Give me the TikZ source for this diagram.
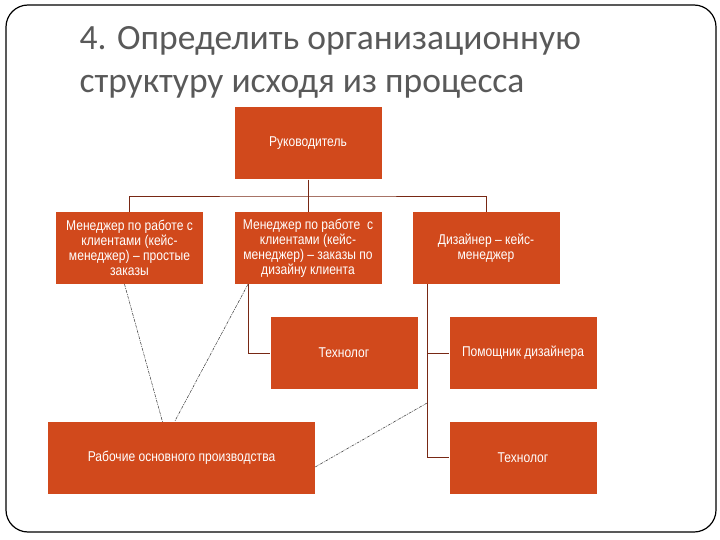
\documentclass[tikz,border=0pt]{standalone}
\usepackage{fontspec}
\setmainfont{Carlito}
\newfontfamily\boxfont[FakeStretch=0.85]{Liberation Sans}
\definecolor{postfill}{RGB}{209,73,28}
\definecolor{linkbrown}{RGB}{120,40,20}
\definecolor{titlegray}{RGB}{89,89,89}
\tikzset{
  post/.style={fill=postfill, text=white, align=center, inner sep=2pt,
    font=\boxfont\fontsize{14.2}{15}\selectfont,
    minimum width=147pt, minimum height=72pt},
  link/.style={linkbrown, line width=0.7pt},
  loose/.style={black!80, line width=0.5pt, dash pattern=on 3pt off 1pt on 1pt off 1pt}
}
\begin{document}
\begin{tikzpicture}[x=1pt, y=-1pt]
  \useasboundingbox (0,0) rectangle (720,540);
  \draw[line width=1.2pt, rounded corners=22pt] (6,5) rectangle (716,532);
  \node[anchor=base west, text=titlegray, align=left,
        font=\fontsize{35.5}{43}\selectfont] (title) at (76,93)
        {4. Определить организационную\\структуру исходя из процесса};
  % boxes
  \node[post] (lead) at (308,143.5) {Руководитель};
  \node[post] (case1) at (129.5,248) {Менеджер по работе с\\клиентами (кейс-\\менеджер) – простые\\заказы};
  \node[post] (case2) at (308,248) {Менеджер по работе~~с\\клиентами (кейс-\\менеджер) – заказы по\\дизайну клиента};
  \node[post] (design) at (486,248) {Дизайнер – кейс-\\менеджер};
  \node[post] (techA) at (344,353) {Технолог};
  \node[post] (helper) at (523,353) {Помощник дизайнера};
  \node[post] (techB) at (523,457.5) {Технолог};
  \node[post, minimum width=267pt] (workers) at (181.5,458) {Рабочие основного производства};
  % tree
  \coordinate (bar) at (0,196);
  \draw[link] (lead.south) -- (case2.north);
  \draw[link] (case1.north) |- (bar -| lead.south) -| (design.north);
  \coordinate (elbow) at ([xshift=-60pt]case2.south);
  \draw[link] (elbow) |- (techA.west);
  \coordinate (spine) at ([xshift=-59pt]design.south);
  \draw[link] (spine) |- (techB.west);
  \draw[link] (spine |- helper.west) -- (helper.west);
  % loose ties
  \coordinate (tieA) at ([xshift=-5pt]case1.south);
  \coordinate (tieB) at (spine |- 0,403);
  \draw[loose] (tieA) -- ([xshift=-19pt]workers.north);
  \draw[loose] (elbow) -- ([xshift=-7pt]workers.north);
  \draw[loose] (tieB) -- ([yshift=-9pt]workers.east);
\end{tikzpicture}
\end{document}
